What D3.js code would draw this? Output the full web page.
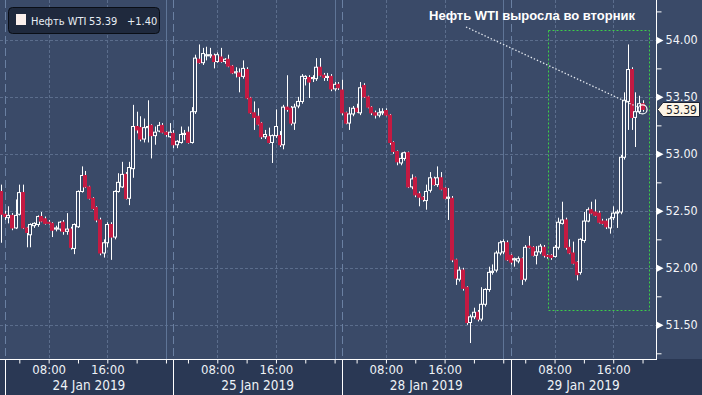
<!DOCTYPE html>
<html>
<head>
<meta charset="utf-8">
<script src="https://cdn.jsdelivr.net/npm/d3@7"></script>
<style>
  html, body { margin: 0; padding: 0; background: #3a4a68; }
  svg { display: block; }
  text { font-family: 'DejaVu Sans Condensed', 'DejaVu Sans', sans-serif; font-stretch: condensed; }
</style>
</head>
<body>
<svg id="chart"></svg>
<script>
// WTI crude, 30-minute bars [open, high, low, close]
// session runs 02:00 -> 01:00 next day (46 half-hour bars)
const jan23 = [[52.67, 52.73, 52.22, 52.47]]; // last bar of the session only
const jan24 = [
  [52.47, 52.50, 52.42, 52.45], [52.44, 52.54, 52.39, 52.46], [52.46, 52.48, 52.33, 52.35], [52.35, 52.60, 52.34, 52.46],
  [52.47, 52.73, 52.46, 52.66], [52.66, 52.73, 52.34, 52.35], [52.35, 52.36, 52.18, 52.31], [52.29, 52.39, 52.18, 52.38],
  [52.37, 52.40, 52.35, 52.39], [52.38, 52.46, 52.36, 52.45], [52.45, 52.49, 52.40, 52.41], [52.43, 52.45, 52.38, 52.39],
  [52.40, 52.42, 52.38, 52.39], [52.39, 52.40, 52.27, 52.33], [52.34, 52.37, 52.32, 52.35], [52.34, 52.41, 52.32, 52.40],
  [52.40, 52.42, 52.29, 52.32], [52.32, 52.48, 52.29, 52.34], [52.34, 52.36, 52.16, 52.18], [52.17, 52.39, 52.12, 52.38],
  [52.36, 52.68, 52.35, 52.67], [52.67, 52.89, 52.66, 52.81], [52.81, 52.85, 52.70, 52.71], [52.71, 52.72, 52.60, 52.61],
  [52.61, 52.62, 52.51, 52.52], [52.53, 52.54, 52.40, 52.42], [52.42, 52.44, 52.11, 52.13], [52.13, 52.25, 52.09, 52.22],
  [52.22, 52.40, 52.18, 52.38], [52.38, 52.40, 52.07, 52.27], [52.27, 52.68, 52.25, 52.67], [52.67, 52.83, 52.66, 52.75],
  [52.71, 52.93, 52.70, 52.82], [52.82, 52.84, 52.60, 52.61], [52.61, 52.93, 52.55, 52.88], [52.87, 53.43, 52.79, 53.24],
  [53.24, 53.37, 53.18, 53.21], [53.23, 53.33, 53.11, 53.13], [53.13, 53.31, 53.10, 53.23], [53.23, 53.47, 53.10, 53.24],
  [53.25, 53.26, 52.96, 53.16], [53.16, 53.24, 53.08, 53.19], [53.20, 53.28, 53.19, 53.25], [53.25, 53.27, 53.18, 53.19],
  [53.19, 53.20, 53.15, 53.17], [53.15, 53.27, 53.14, 53.19]
];
const jan25 = [
  [53.18, 53.21, 53.05, 53.08], [53.08, 53.12, 53.05, 53.11], [53.10, 53.24, 53.09, 53.17], [53.17, 53.21, 53.12, 53.18],
  [53.19, 53.24, 53.09, 53.10], [53.10, 53.41, 53.09, 53.37], [53.37, 53.87, 53.35, 53.84], [53.83, 53.96, 53.79, 53.80],
  [53.80, 53.93, 53.78, 53.88], [53.86, 53.94, 53.82, 53.87], [53.86, 53.93, 53.84, 53.87], [53.86, 53.88, 53.75, 53.81],
  [53.81, 53.89, 53.80, 53.87], [53.85, 53.93, 53.80, 53.81], [53.81, 53.84, 53.79, 53.83], [53.83, 53.87, 53.76, 53.77],
  [53.77, 53.78, 53.70, 53.71], [53.71, 53.76, 53.67, 53.72], [53.71, 53.75, 53.54, 53.68], [53.68, 53.82, 53.66, 53.75],
  [53.74, 53.76, 53.48, 53.49], [53.49, 53.50, 53.35, 53.36], [53.36, 53.46, 53.21, 53.32], [53.33, 53.40, 53.25, 53.26],
  [53.27, 53.28, 53.13, 53.15], [53.15, 53.21, 53.13, 53.17], [53.15, 53.23, 53.09, 53.10], [53.10, 53.17, 52.92, 53.16],
  [53.16, 53.39, 53.14, 53.24], [53.16, 53.20, 53.06, 53.08], [53.08, 53.43, 53.04, 53.41], [53.41, 53.69, 53.37, 53.39],
  [53.40, 53.42, 53.25, 53.27], [53.27, 53.44, 53.21, 53.41], [53.42, 53.50, 53.40, 53.46], [53.46, 53.70, 53.44, 53.68],
  [53.66, 53.69, 53.60, 53.68], [53.67, 53.69, 53.49, 53.63], [53.66, 53.69, 53.63, 53.67], [53.66, 53.84, 53.64, 53.76],
  [53.76, 53.84, 53.68, 53.69], [53.69, 53.71, 53.64, 53.67], [53.67, 53.71, 53.64, 53.68], [53.68, 53.70, 53.55, 53.57],
  [53.57, 53.63, 53.55, 53.61], [53.61, 53.63, 53.56, 53.58]
];
const jan28 = [
  [53.56, 53.65, 53.34, 53.36], [53.36, 53.37, 53.26, 53.27], [53.27, 53.41, 53.21, 53.35], [53.35, 53.42, 53.33, 53.40],
  [53.40, 53.44, 53.36, 53.37], [53.36, 53.63, 53.34, 53.58], [53.60, 53.62, 53.49, 53.50], [53.50, 53.51, 53.40, 53.41],
  [53.41, 53.42, 53.34, 53.36], [53.36, 53.38, 53.31, 53.34], [53.34, 53.40, 53.32, 53.36], [53.36, 53.40, 53.34, 53.37],
  [53.38, 53.40, 53.33, 53.34], [53.34, 53.35, 53.08, 53.10], [53.10, 53.11, 53.00, 53.02], [53.02, 53.03, 52.90, 52.93],
  [52.92, 53.01, 52.90, 52.96], [52.96, 53.02, 52.94, 53.01], [53.01, 53.02, 52.70, 52.71], [52.71, 52.82, 52.69, 52.78],
  [52.79, 52.80, 52.62, 52.64], [52.65, 52.67, 52.54, 52.62], [52.62, 52.63, 52.58, 52.60], [52.59, 52.73, 52.51, 52.67],
  [52.68, 52.84, 52.66, 52.79], [52.78, 52.80, 52.72, 52.73], [52.73, 52.89, 52.71, 52.79], [52.79, 52.84, 52.68, 52.69],
  [52.70, 52.71, 52.60, 52.61], [52.61, 52.70, 52.42, 52.62], [52.61, 52.63, 52.05, 52.07], [52.07, 52.08, 51.85, 51.91],
  [51.90, 52.01, 51.88, 51.98], [51.98, 52.00, 51.80, 51.82], [51.83, 51.84, 51.50, 51.52], [51.52, 51.59, 51.34, 51.57],
  [51.57, 51.65, 51.55, 51.61], [51.61, 51.63, 51.53, 51.55], [51.55, 51.83, 51.53, 51.68], [51.68, 51.82, 51.66, 51.81],
  [51.81, 52.01, 51.79, 51.96], [51.96, 52.03, 51.94, 51.97], [51.98, 52.15, 51.96, 52.13], [52.13, 52.24, 52.11, 52.22],
  [52.14, 52.25, 52.12, 52.23], [52.22, 52.24, 52.06, 52.07]
];
const jan29 = [
  [52.11, 52.12, 52.03, 52.05], [52.07, 52.09, 52.01, 52.08], [52.06, 52.10, 52.04, 52.08], [52.08, 52.09, 51.85, 51.90],
  [51.90, 52.20, 51.88, 52.18], [52.19, 52.28, 52.17, 52.18], [52.18, 52.19, 52.10, 52.11], [52.11, 52.19, 52.03, 52.14],
  [52.14, 52.21, 52.12, 52.19], [52.18, 52.20, 52.09, 52.11], [52.11, 52.12, 52.08, 52.10], [52.11, 52.12, 52.07, 52.09],
  [52.10, 52.20, 52.09, 52.18], [52.18, 52.44, 52.16, 52.40], [52.39, 52.58, 52.38, 52.42], [52.42, 52.44, 52.16, 52.18],
  [52.18, 52.25, 52.12, 52.13], [52.13, 52.23, 52.03, 52.04], [52.05, 52.06, 51.89, 51.94], [51.96, 52.26, 51.94, 52.25],
  [52.24, 52.49, 52.22, 52.41], [52.41, 52.53, 52.40, 52.51], [52.51, 52.58, 52.47, 52.48], [52.49, 52.60, 52.45, 52.46],
  [52.48, 52.50, 52.39, 52.40], [52.41, 52.43, 52.38, 52.39], [52.41, 52.43, 52.34, 52.36], [52.35, 52.45, 52.30, 52.43],
  [52.44, 52.54, 52.42, 52.48], [52.48, 52.51, 52.35, 52.49], [52.49, 52.99, 52.47, 52.97], [52.97, 53.54, 52.95, 53.47],
  [53.46, 53.96, 53.21, 53.74], [53.74, 53.76, 53.21, 53.32], [53.32, 53.54, 53.06, 53.37], [53.37, 53.51, 53.35, 53.44],
  [53.44, 53.47, 53.37, 53.39]
];

const sessions = [
  { label: "23 Jan 2019", first: 45, bars: jan23 },
  { label: "24 Jan 2019", first: 0, bars: jan24 },
  { label: "25 Jan 2019", first: 0, bars: jan25 },
  { label: "28 Jan 2019", first: 0, bars: jan28 },
  { label: "29 Jan 2019", first: 0, bars: jan29 }
];
const barsPerSession = 46;
const hourLabels = [{ slot: 12, label: "08:00" }, { slot: 28, label: "16:00" }];
const hourTickSlots = [4, 12, 20, 28, 36, 44]; // 04:00 ... 24:00
const midnightSlot = 44;
const priceTicks = [51.5, 52.0, 52.5, 53.0, 53.5, 54.0];
const minorPriceTicks = [51.25, 51.75, 52.25, 52.75, 53.25, 53.75, 54.25];
const seriesName = "Нефть WTI";
const lastPrice = 53.39;
const priceChange = "+1.40";
const annotationText = "Нефть WTI выросла во вторник";

// layout
const width = 702, height = 395;
const plotW = 656, plotH = 359;
const bg = "#3a4a68", bandBg = "#2a3854", red = "#c41a42";

const svg = d3.select("#chart").attr("width", width).attr("height", height);

// flatten bars to slot index (24 Jan 02:00 = slot 0)
const data = [];
sessions.forEach((s, k) => {
  s.bars.forEach((b, i) => {
    data.push({ slot: (k - 1) * barsPerSession + s.first + i, o: b[0], h: b[1], l: b[2], c: b[3] });
  });
});

const x = d3.scaleLinear().domain([-1.27, 177.67]).range([0, plotW]);
const y = d3.scaleLinear().domain([51.2, 54.35]).range([plotH, 0]);
const px = v => Math.round(x(v)) + 0.5;

svg.append("rect").attr("width", width).attr("height", height).attr("fill", bg);
svg.append("rect").attr("y", plotH).attr("width", width).attr("height", height - plotH).attr("fill", bandBg);

const grid = svg.append("g");
// horizontal dashed grid
grid.selectAll(".hg").data(priceTicks).enter().append("line")
  .attr("x1", 0).attr("x2", plotW)
  .attr("y1", d => Math.round(y(d)) + 0.5).attr("y2", d => Math.round(y(d)) + 0.5)
  .attr("stroke", "#5b6d8c").attr("stroke-dasharray", "3,2");

const sessionStarts = sessions.map((s, k) => (k - 1) * barsPerSession).filter(s => s >= x.domain()[0]);
const hourGrid = [];
sessionStarts.forEach(s0 => hourLabels.forEach(h => hourGrid.push(s0 + h.slot)));
grid.selectAll(".vg").data(hourGrid.filter(s => s < x.domain()[1])).enter().append("line")
  .attr("x1", px).attr("x2", px).attr("y1", 0).attr("y2", plotH)
  .attr("stroke", "#5b6d8c").attr("stroke-dasharray", "3,2");
// session start (dashed) and midnight (solid)
grid.selectAll(".sep").data(sessionStarts).enter().append("line")
  .attr("x1", px).attr("x2", px).attr("y1", 0).attr("y2", plotH)
  .attr("stroke", "#6a80a2").attr("stroke-dasharray", "8,4");
grid.selectAll(".mid").data(sessionStarts.map(s => s + midnightSlot).filter(s => s < x.domain()[1])).enter().append("line")
  .attr("x1", px).attr("x2", px).attr("y1", 0).attr("y2", plotH)
  .attr("stroke", "#5f7597");

// green highlight box for Tuesday's move
const box = { from: 148.2, to: 175.8, hi: 54.09, lo: 51.63 };
svg.append("rect")
  .attr("x", Math.round(x(box.from)) + 0.5).attr("y", Math.round(y(box.hi)) + 0.5)
  .attr("width", Math.round(x(box.to) - x(box.from))).attr("height", Math.round(y(box.lo) - y(box.hi)))
  .attr("fill", "none").attr("stroke", "#3ccf48").attr("stroke-dasharray", "2,2");

// candles
const candles = svg.append("g");
candles.selectAll(".wick").data(data).enter().append("line")
  .attr("x1", d => px(d.slot)).attr("x2", d => px(d.slot))
  .attr("y1", d => y(d.h)).attr("y2", d => y(d.l))
  .attr("stroke", "#ffffff").attr("stroke-width", 1);
candles.selectAll(".body").data(data).enter().append("rect")
  .attr("x", d => Math.round(x(d.slot)) - 1.5)
  .attr("width", 3)
  .attr("y", d => y(Math.max(d.o, d.c)))
  .attr("height", d => Math.max(1, Math.abs(y(d.o) - y(d.c))))
  .attr("fill", d => d.c >= d.o ? bg : red)
  .attr("stroke", d => d.c >= d.o ? "#ffffff" : red)
  .attr("stroke-width", 1);

// bottom axis
svg.append("line").attr("x1", 0).attr("x2", plotW).attr("y1", plotH + 0.5).attr("y2", plotH + 0.5)
  .attr("stroke", "#ffffff");
const tickSlots = [];
sessions.forEach((s, k) => hourTickSlots.forEach(h => tickSlots.push((k - 1) * barsPerSession + h)));
const xAxis = svg.append("g").attr("transform", `translate(0,${plotH + 0.5})`)
  .call(d3.axisBottom(x).tickValues(tickSlots.filter(s => s > x.domain()[0] && s < x.domain()[1]))
    .tickSize(4).tickFormat(""));
xAxis.select(".domain").remove();
xAxis.selectAll("line").attr("stroke", "#ffffff");

const labelSlots = [];
sessionStarts.forEach(s0 => hourLabels.forEach(h => labelSlots.push({ slot: s0 + h.slot, label: h.label })));
const labelMap = new Map(labelSlots.map(d => [d.slot, d.label]));
const xLabels = svg.append("g").attr("transform", `translate(0,${plotH})`)
  .call(d3.axisBottom(x).tickValues(labelSlots.map(d => d.slot)).tickSize(0).tickFormat(d => labelMap.get(d)));
xLabels.select(".domain").remove();
xLabels.selectAll("text").attr("y", 5.5).attr("font-size", 13).attr("fill", "#eef2f7")
  .style("font-family", "'DejaVu Sans Condensed', 'DejaVu Sans', sans-serif");

svg.selectAll(".daysep").data(sessionStarts.filter(s => s > x.domain()[0] + 1)).enter().append("line")
  .attr("x1", px).attr("x2", px).attr("y1", plotH).attr("y2", height)
  .attr("stroke", "#ffffff");
svg.selectAll(".day").data(sessions.filter((s, k) => (k - 1) * barsPerSession >= x.domain()[0])).enter().append("text")
  .attr("x", d => {
    const s0 = (sessions.indexOf(d) - 1) * barsPerSession;
    const s1 = Math.min(s0 + barsPerSession, x.domain()[1]);
    return (x(s0) + x(s1)) / 2;
  })
  .attr("y", 389.5).attr("text-anchor", "middle").attr("font-size", 13.5).attr("fill", "#eef2f7")
  .text(d => d.label);

// right axis
svg.append("line").attr("x1", plotW + 0.5).attr("x2", plotW + 0.5).attr("y1", 0).attr("y2", plotH + 1)
  .attr("stroke", "#ffffff");
const yMinor = svg.append("g").attr("transform", `translate(${plotW + 0.5},0)`)
  .call(d3.axisRight(y).tickValues(minorPriceTicks).tickSize(5).tickFormat(""));
yMinor.select(".domain").remove();
yMinor.selectAll("line").attr("stroke", "#ffffff");
const yAxis = svg.append("g").attr("transform", `translate(${plotW + 0.5},0)`)
  .call(d3.axisRight(y).tickValues(priceTicks).tickSize(0).tickPadding(9).tickFormat(d3.format(".2f")));
yAxis.select(".domain").remove();
yAxis.selectAll("text").attr("font-size", 12.5).attr("fill", "#f2f4f8")
  .style("font-family", "'DejaVu Sans Condensed', 'DejaVu Sans', sans-serif");
yAxis.selectAll(".tick").append("path").attr("d", "M0.5,-3.5L7,0L0.5,3.5Z").attr("fill", "#ffffff");

// annotation: dotted leader to last bar
const last = data[data.length - 1];
const cx = x(last.slot), cy = y(lastPrice);
const start = [466, 27];
const ang = Math.atan2(cy - start[1], cx - start[0]);
svg.append("line")
  .attr("x1", start[0]).attr("y1", start[1])
  .attr("x2", cx - 5 * Math.cos(ang)).attr("y2", cy - 5 * Math.sin(ang))
  .attr("stroke", "#e4e9f0").attr("stroke-width", 1.3).attr("stroke-dasharray", "1.4,2");
svg.append("circle").attr("cx", cx).attr("cy", cy).attr("r", 4.5)
  .attr("fill", "none").attr("stroke", "#ffffff").attr("stroke-width", 1.2);
svg.append("text").attr("x", 635).attr("y", 20).attr("text-anchor", "end")
  .attr("font-size", 13).attr("font-weight", "bold").attr("fill", "#ffffff")
  .style("font-family", "'Liberation Sans', Arial, sans-serif").style("font-stretch", "normal")
  .text(annotationText);

// last price tag (sits just under the 53.50 label)
const tag = svg.append("g").attr("transform", `translate(${plotW + 1},${Math.round(cy) + 0.5})`);
tag.append("path").attr("d", "M0.5,0L6,-7L42.5,-7L42.5,7L6,7Z")
  .attr("fill", "#fcf4e6").attr("stroke", "#1b2233");
tag.append("text").attr("x", 24.5).attr("y", 4.3).attr("text-anchor", "middle")
  .attr("font-size", 12).attr("fill", "#1a1d26").text(d3.format(".2f")(lastPrice));

// legend
const legend = svg.append("g");
legend.append("rect").attr("x", 8.5).attr("y", 7.5).attr("width", 151).attr("height", 26).attr("rx", 4)
  .attr("fill", "#1f293d").attr("stroke", "#0a0e16");
legend.append("rect").attr("x", 16).attr("y", 14).attr("width", 10).attr("height", 11).attr("fill", "#fbf0ec");
legend.append("text").attr("x", 31).attr("y", 25).attr("font-size", 11).attr("fill", "#e8edf4").text(seriesName);
legend.append("text").attr("x", 89).attr("y", 25).attr("font-size", 11).attr("fill", "#e8edf4").text(d3.format(".2f")(lastPrice));
legend.append("text").attr("x", 127).attr("y", 25).attr("font-size", 11).attr("fill", "#e8edf4").text(priceChange);
</script>
</body>
</html>
